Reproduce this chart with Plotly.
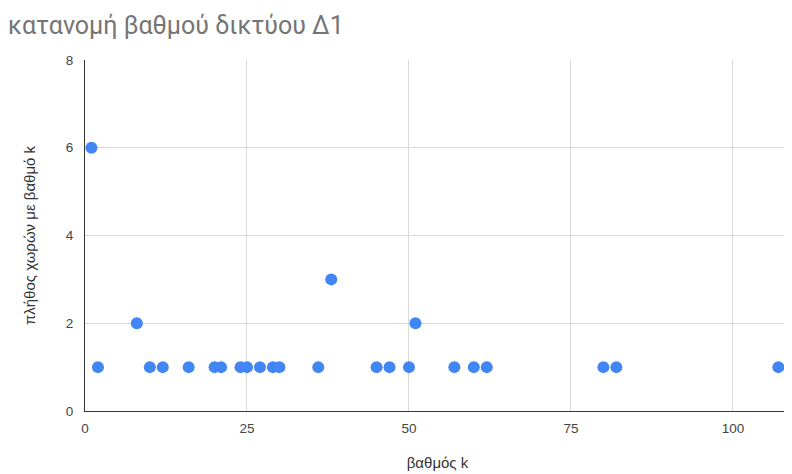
import plotly.graph_objects as go

# degree k and number of countries with that degree
degree_k = [1, 2, 8, 10, 12, 16, 20, 21, 24, 25, 27, 29, 30, 36, 38, 45, 47, 50, 51, 57, 60, 62, 80, 82, 107]
count_k = [6, 1, 2, 1, 1, 1, 1, 1, 1, 1, 1, 1, 1, 1, 3, 1, 1, 1, 2, 1, 1, 1, 1, 1, 1]

x_ticks = [0, 25, 50, 75, 100]
y_ticks = [0, 2, 4, 6, 8]

fig = go.Figure(
    go.Scatter(
        x=degree_k,
        y=count_k,
        mode="markers",
        marker=dict(color="#4285F4", size=12),
        cliponaxis=False,
        hoverinfo="x+y",
    )
)

# page body has an 8px margin, so the figure is a bit smaller than the window
fig.update_layout(
    width=784,
    height=466,
    margin=dict(l=77, r=2, t=52, b=63),
    paper_bgcolor="white",
    plot_bgcolor="white",
    showlegend=False,
    font=dict(family="Liberation Sans, Arial", size=13, color="#444444"),
    title=dict(
        text="κατανομή βαθμού δικτύου Δ1",
        x=0,
        xanchor="left",
        y=0.963,
        yanchor="middle",
        font=dict(family="Roboto, Liberation Sans", size=25, color="#757575"),
    ),
)

fig.update_xaxes(
    range=[0, 108.8],
    tickvals=x_ticks,
    tickfont=dict(size=13.5, color="#444444"),
    automargin=False,
    showgrid=True,
    gridcolor="#d9d9d9",
    gridwidth=1,
    zeroline=False,
    showline=True,
    linecolor="#333333",
    linewidth=1,
    ticks="",
    ticklabelstandoff=5,
    title=dict(text="βαθμός k", font=dict(size=15, color="#333333"), standoff=22),
)

fig.update_yaxes(
    range=[0, 8],
    tickvals=y_ticks,
    tickfont=dict(size=13.5, color="#444444"),
    automargin=False,
    showgrid=True,
    gridcolor="#d9d9d9",
    gridwidth=1,
    zeroline=False,
    showline=True,
    linecolor="#333333",
    linewidth=1,
    ticks="",
    ticklabelstandoff=8,
    title=dict(text="πλήθος χωρών με βαθμό k", font=dict(size=15, color="#333333"), standoff=26),
)

fig.write_html("out.html")
